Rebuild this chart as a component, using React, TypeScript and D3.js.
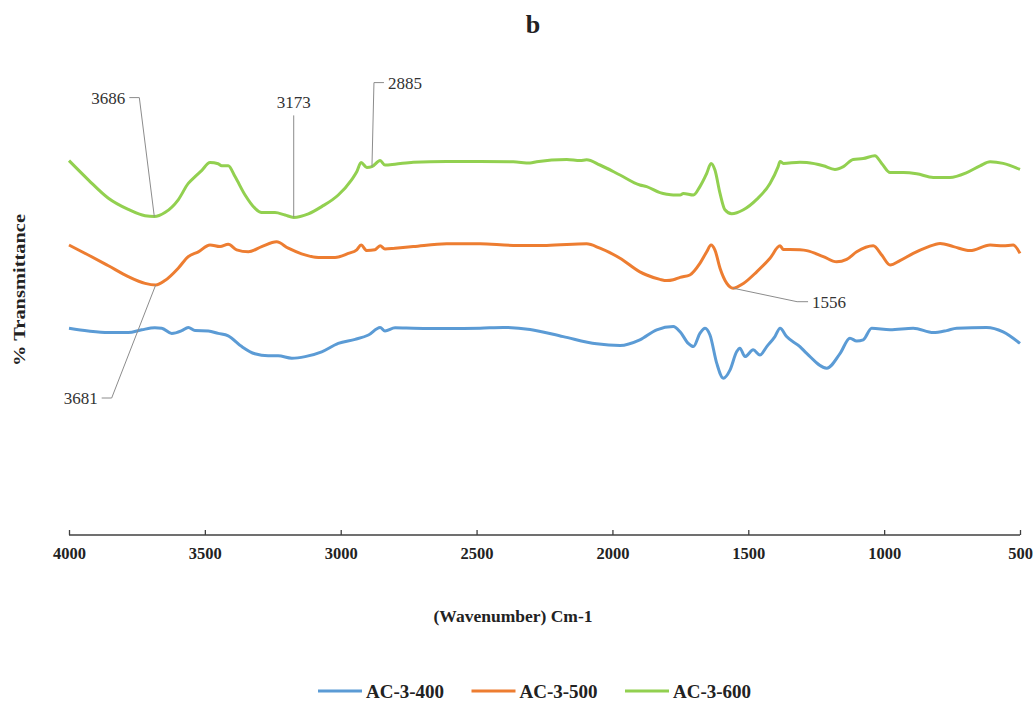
import React, { useEffect, useRef } from "react";
import * as d3 from "d3";

// FTIR spectra (wavenumber in cm-1, arbitrary % transmittance)
const ac400Wn = [4000, 3929, 3855, 3782, 3732, 3684, 3659, 3622, 3585, 3561, 3536, 3487, 3451, 3414, 3364, 3316, 3267, 3230, 3180, 3131, 3070, 3009, 2947, 2898, 2855, 2837, 2800, 2733, 2610, 2487, 2402, 2303, 2181, 2058, 1972, 1899, 1837, 1776, 1751, 1721, 1702, 1678, 1659, 1641, 1616, 1592, 1567, 1543, 1531, 1512, 1482, 1457, 1432, 1402, 1383, 1359, 1310, 1285, 1211, 1162, 1126, 1101, 1077, 1046, 978, 893, 819, 770, 733, 623, 562, 500];
const ac400T = [51.7, 51.0, 50.6, 50.6, 51.3, 51.8, 51.7, 50.4, 51.1, 51.9, 51.1, 51.0, 50.4, 49.8, 47.1, 45.3, 44.8, 44.8, 44.2, 44.6, 45.8, 47.9, 48.9, 50.0, 51.9, 51.0, 51.8, 51.7, 51.6, 51.7, 51.9, 51.4, 49.6, 47.8, 47.4, 48.8, 51.3, 52.1, 50.8, 47.9, 47.1, 50.4, 51.7, 50.0, 42.9, 39.2, 41.3, 45.8, 46.7, 44.6, 46.3, 45.0, 47.1, 49.6, 51.7, 49.6, 47.1, 45.4, 41.7, 45.4, 49.2, 48.5, 48.8, 51.7, 51.3, 51.7, 50.6, 51.1, 51.7, 51.9, 50.8, 47.9];

const ac500Wn = [4000, 3929, 3855, 3782, 3720, 3681, 3647, 3598, 3561, 3524, 3481, 3444, 3414, 3383, 3340, 3291, 3236, 3193, 3144, 3082, 3021, 2972, 2941, 2925, 2904, 2874, 2855, 2837, 2800, 2733, 2610, 2487, 2365, 2242, 2095, 2046, 1972, 1899, 1874, 1825, 1800, 1776, 1751, 1715, 1678, 1653, 1637, 1623, 1604, 1579, 1556, 1518, 1469, 1420, 1383, 1371, 1347, 1310, 1285, 1224, 1175, 1138, 1101, 1040, 1009, 978, 942, 893, 843, 794, 745, 684, 610, 562, 525, 500];
const ac500T = [72.5, 70.0, 67.3, 64.6, 62.9, 62.5, 63.6, 66.7, 69.6, 70.8, 72.5, 72.1, 72.7, 71.3, 70.8, 72.1, 73.3, 71.7, 70.3, 69.4, 69.4, 70.4, 71.3, 72.5, 71.1, 71.3, 72.3, 71.5, 71.7, 72.1, 72.8, 72.8, 72.4, 72.4, 72.8, 71.7, 69.2, 65.8, 65.0, 63.9, 63.6, 63.8, 64.4, 65.0, 67.9, 70.8, 72.5, 71.3, 66.7, 62.9, 61.7, 62.9, 65.8, 69.2, 72.3, 71.4, 71.4, 71.3, 71.1, 69.6, 68.3, 68.9, 70.8, 72.3, 70.0, 67.5, 68.6, 70.4, 71.9, 72.9, 72.1, 71.1, 72.5, 72.3, 72.5, 70.4];

const ac600Wn = [4000, 3929, 3855, 3782, 3720, 3686, 3647, 3598, 3561, 3536, 3512, 3481, 3451, 3438, 3414, 3389, 3352, 3316, 3291, 3242, 3205, 3173, 3119, 3070, 3009, 2960, 2941, 2925, 2904, 2885, 2855, 2837, 2800, 2733, 2610, 2487, 2365, 2303, 2279, 2168, 2119, 2095, 2046, 1972, 1899, 1874, 1825, 1800, 1776, 1751, 1739, 1702, 1678, 1653, 1637, 1623, 1604, 1586, 1561, 1518, 1469, 1420, 1390, 1383, 1371, 1310, 1285, 1224, 1181, 1150, 1114, 1077, 1034, 1009, 978, 929, 880, 819, 758, 696, 647, 610, 562, 500];
const ac600T = [93.6, 88.8, 84.2, 81.4, 79.8, 79.6, 80.6, 83.8, 87.9, 89.6, 91.1, 93.1, 92.8, 92.3, 92.3, 89.6, 85.0, 81.7, 80.6, 80.6, 80.0, 79.4, 80.3, 82.1, 85.0, 88.8, 90.8, 93.1, 91.9, 92.1, 93.6, 92.5, 92.7, 93.2, 93.4, 93.4, 93.3, 93.0, 93.3, 93.9, 93.6, 93.8, 92.5, 90.0, 87.5, 87.1, 85.6, 85.2, 85.0, 85.0, 85.4, 85.0, 87.1, 90.4, 92.9, 91.3, 85.4, 81.3, 80.3, 81.3, 83.9, 87.9, 92.1, 93.4, 92.9, 93.2, 93.1, 92.3, 91.4, 92.1, 93.9, 94.1, 94.8, 92.9, 90.6, 90.6, 90.3, 89.4, 89.4, 90.6, 92.3, 93.3, 92.9, 91.4];

const seriesNames = ["AC-3-400", "AC-3-500", "AC-3-600"];
const seriesColors = ["#5b9bd5", "#ed7d31", "#92d050"];
const xTicks = [4000, 3500, 3000, 2500, 2000, 1500, 1000, 500];

// peak call-outs: series index, wavenumber, elbow offset, tail length
const peakLabels = [
  { label: "3686", s: 2, wn: 3686, dx: -15, dy: -119, hx: -10 },
  { label: "3173", s: 2, wn: 3173, dx: 0, dy: -102, hx: 0 },
  { label: "2885", s: 2, wn: 2885, dx: 2, dy: -84, hx: 10 },
  { label: "3681", s: 1, wn: 3681, dx: -44, dy: 113, hx: -10 },
  { label: "1556", s: 1, wn: 1556, dx: 64, dy: 13.5, hx: 11 },
];

const FONT = '"Liberation Serif", "DejaVu Serif", serif';

export default function App() {
  const ref = useRef<SVGSVGElement>(null);

  useEffect(() => {
    const W = 1035, H = 702;
    const svg = d3.select(ref.current);
    svg.selectAll("*").remove();

    const x = d3.scaleLinear().domain([4000, 500]).range([69, 1020]);
    const y = d3.scaleLinear().domain([0, 100]).range([535, 135]);

    svg.append("rect").attr("width", W).attr("height", H).attr("fill", "#fff");

    const series = [
      { wn: ac400Wn, t: ac400T },
      { wn: ac500Wn, t: ac500T },
      { wn: ac600Wn, t: ac600T },
    ].map((d, i) => ({
      name: seriesNames[i],
      color: seriesColors[i],
      pts: d.wn.map((w, j) => [w, d.t[j]] as [number, number]),
    }));

    // x axis, ticks point up
    const ax = svg.append("g").attr("transform", "translate(0,535)");
    ax.call(d3.axisBottom(x).tickValues(xTicks).tickSize(-5).tickPadding(12).tickFormat(d3.format("d")));
    ax.attr("font-family", FONT).attr("font-size", 16.5).attr("font-weight", "bold");
    ax.select(".domain").attr("stroke", "#404040").attr("stroke-width", 1.3).attr("d", "M69,0H1020");
    ax.selectAll(".tick line").attr("stroke", "#404040").attr("stroke-width", 1.3);
    ax.selectAll(".tick text").attr("fill", "#222");

    const line = d3.line<[number, number]>()
      .x(d => x(d[0]))
      .y(d => y(d[1]))
      .curve(d3.curveMonotoneX);

    svg.append("g")
      .selectAll("path")
      .data(series)
      .join("path")
      .attr("d", d => line(d.pts))
      .attr("fill", "none")
      .attr("stroke", d => d.color)
      .attr("stroke-width", 3)
      .attr("stroke-linejoin", "round");

    // call-outs
    const ann = svg.append("g").attr("font-family", FONT).attr("font-size", 17);
    peakLabels.forEach(p => {
      const pt = series[p.s].pts.find(d => d[0] === p.wn)!;
      const ax0 = x(pt[0]), ay0 = y(pt[1]);
      const ex = ax0 + p.dx, ey = ay0 + p.dy;
      const tx = ex + p.hx;
      ann.append("path")
        .attr("d", `M${ax0},${ay0}L${ex},${ey}L${tx},${ey}`)
        .attr("fill", "none")
        .attr("stroke", "#8c8c8c")
        .attr("stroke-width", 1);
      const t = ann.append("text").attr("fill", "#333").text(p.label);
      if (p.hx === 0) {
        t.attr("x", ex).attr("y", ey - 7).attr("text-anchor", "middle");
      } else {
        t.attr("x", tx + (p.hx > 0 ? 4 : -4))
          .attr("y", ey)
          .attr("dy", "0.35em")
          .attr("text-anchor", p.hx > 0 ? "start" : "end");
      }
    });

    // titles
    const titles = svg.append("g").attr("font-family", FONT).attr("font-weight", "bold").attr("fill", "#222");
    titles.append("text")
      .attr("x", 533).attr("y", 33)
      .attr("text-anchor", "middle")
      .attr("font-size", 26)
      .text("b");

    titles.append("text")
      .attr("x", 513).attr("y", 622)
      .attr("text-anchor", "middle")
      .attr("font-size", 17.5)
      .text("(Wavenumber) Cm-1");

    titles.append("text")
      .attr("transform", "translate(25,290) rotate(-90)")
      .attr("text-anchor", "middle")
      .attr("font-size", 17)
      .attr("textLength", 152)
      .attr("lengthAdjust", "spacingAndGlyphs")
      .text("% Transmittance");

    // legend
    const lg = svg.append("g")
      .attr("font-family", FONT).attr("font-weight", "bold").attr("font-size", 19)
      .selectAll("g")
      .data(series)
      .join("g")
      .attr("transform", (_d, i) => `translate(${318 + i * 153.5},691)`);
    lg.append("line")
      .attr("x1", 0).attr("x2", 44)
      .attr("stroke", d => d.color)
      .attr("stroke-width", 3);
    lg.append("text")
      .attr("x", 48).attr("dy", "0.35em")
      .attr("fill", "#222")
      .text(d => d.name);
  }, []);

  return (
    <svg
      ref={ref}
      width={1035}
      height={702}
      style={{ position: "absolute", left: 0, top: 0, display: "block" }}
    />
  );
}
